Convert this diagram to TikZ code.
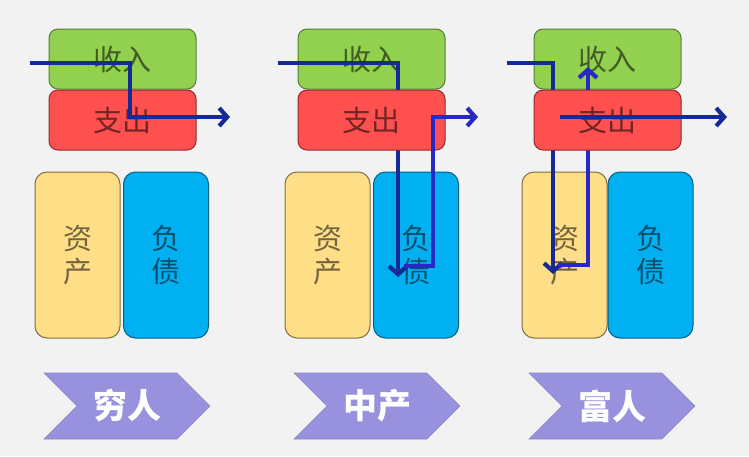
\documentclass[tikz,border=0pt]{standalone}
\usepackage{fontspec}
\setmainfont{Noto Sans CJK SC}
\usetikzlibrary{arrows.meta,shapes.symbols}
\definecolor{bg}{RGB}{242,242,242}
\definecolor{incg}{RGB}{146,208,80}
\definecolor{expr}{RGB}{255,80,80}
\definecolor{asty}{RGB}{255,222,136}
\definecolor{liab}{RGB}{0,176,240}
\definecolor{tagc}{RGB}{152,146,222}
\definecolor{flw}{RGB}{22,42,150}
\definecolor{flwb}{RGB}{40,40,195}
\tikzset{
  >={Straight Barb[length=8pt,width=18pt,line width=4.2pt]},
  top/.style={draw=#1,rounded corners=9pt,minimum width=147pt,minimum height=60pt,line width=1pt,
    text=black,text opacity=.55,font=\fontsize{29}{33}\selectfont},
  tall/.style={draw=#1,rounded corners=12pt,minimum width=85pt,minimum height=166pt,line width=1pt,
    text=black,text opacity=.55,align=center,font=\fontsize{29}{33}\selectfont},
  tag/.style={signal,signal to=east,signal from=west,fill=tagc,draw=tagc!92!black,line width=.6pt,
    minimum width=166pt,minimum height=66pt,text=white,font=\bfseries\fontsize{34}{34}\selectfont},
  fl/.style={draw=flw,line width=3.4pt,->},
  flb/.style={draw=flwb,line width=3.4pt,->},
}
\begin{document}
\begin{tikzpicture}[x=1pt,y=-1pt]
\fill[bg] (0,0) rectangle (749,456);
% income boxes and asset / liability boxes
\node[top=incg!60!black,fill=incg] (in1) at (122.5,59){收入};
\node[top=incg!60!black,fill=incg] (in2) at (371.5,59){收入};
\node[top=incg!60!black,fill=incg] (in3) at (607.5,59){收入};
\node[tall=asty!50!black,fill=asty] (as1) at (77.5,255){资\\产};
\node[tall=liab!55!black,fill=liab] (li1) at (166,255){负\\债};
\node[tall=asty!50!black,fill=asty] (as2) at (327.5,255){资\\产};
\node[tall=liab!55!black,fill=liab] (li2) at (416,255){负\\债};
\node[tall=asty!50!black,fill=asty] (as3) at (564.5,255){资\\产};
\node[tall=liab!55!black,fill=liab] (li3) at (650.5,255){负\\债};
% flow end points
\coordinate (s1) at (30,63); \coordinate (k1) at (130,117); \coordinate (e1) at (230,117);
\coordinate (s2) at (278,63); \coordinate (e2) at (398,277);
\coordinate (t2) at (404,266); \coordinate (u2) at (433,117); \coordinate (f2) at (478,117);
\coordinate (s3) at (507,63); \coordinate (e3) at (553,274);
\coordinate (t3) at (558,265); \coordinate (u3) at (588,67);
\coordinate (g3) at (560,117); \coordinate (f3) at (727,117);
% flows passing behind the expense boxes
\draw[fl] (s2) -| (e2);
\draw[fl] (s3) -| (e3);
\draw[flb] (t3) -| (u3);
% expense boxes
\node[top=expr!55!black,fill=expr] (ex1) at (122.5,120){支出};
\node[top=expr!55!black,fill=expr] (ex2) at (371.5,120){支出};
\node[top=expr!55!black,fill=expr] (ex3) at (607.5,120){支出};
% flows on top
\draw[fl] (s1) -| (k1) -- (e1);
\draw[flb] (t2) -| (u2) -- (f2);
\draw[fl] (g3) -- (f3);
% labels
\node[tag] (poor) at (127,406){穷人};
\node[tag] (mid) at (377,406){中产};
\node[tag] (rich) at (612,406){富人};
\end{tikzpicture}
\end{document}
